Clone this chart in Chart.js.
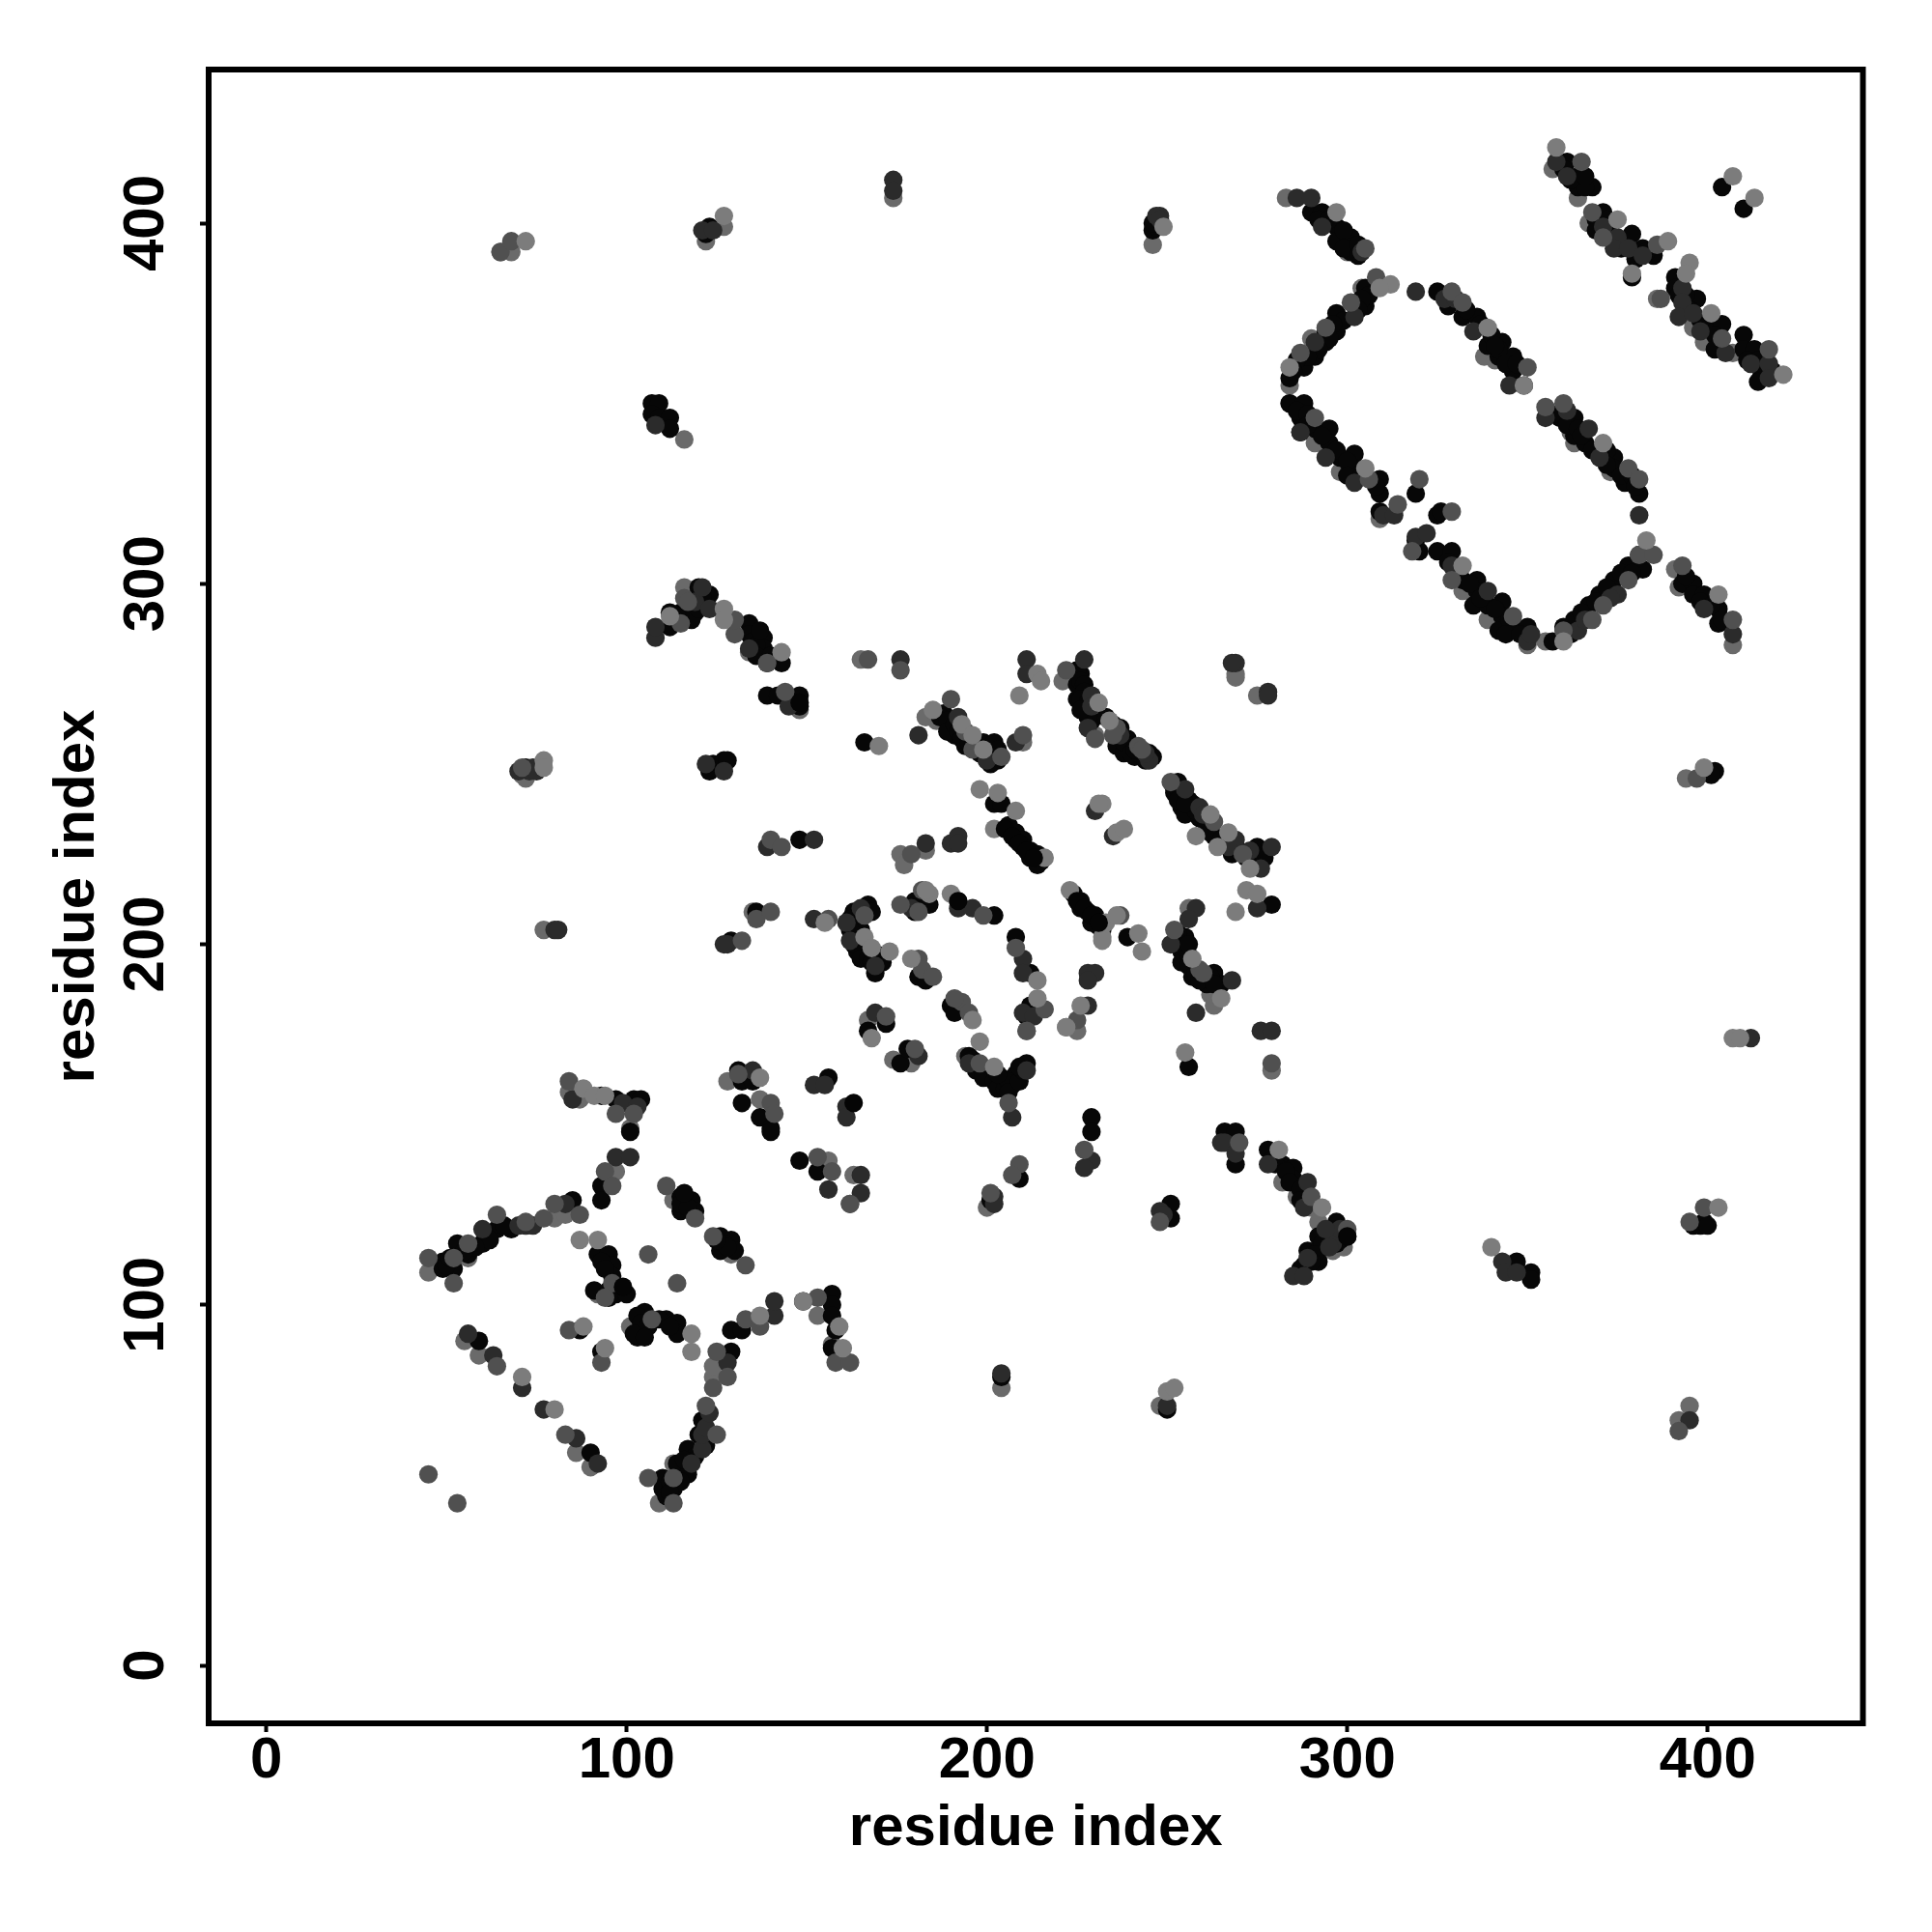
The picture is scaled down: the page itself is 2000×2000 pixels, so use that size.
<!DOCTYPE html>
<html>
<head>
<meta charset="utf-8">
<title>residue contacts</title>
<script src="https://cdn.jsdelivr.net/npm/chart.js@4"></script>
<style>
  body { margin: 0; background: #fff; }
  canvas { display: block; }
</style>
</head>
<body>
<canvas id="contacts" width="2000" height="2000"></canvas>
<script>
// contact pairs [residue, residue], grouped by shade
// painted from the first list to the last one
const grayBack = [
  [357,415],[364,407],[367,400],[386,379],[396,371],[399,367],[403,367],[407,364],[416,358],
  [283,407],[300,392],[304,382],[290,368],[284,355],[284,350],[291,339],[298,331],[309,318],
  [332,298],[339,290],[350,283],[355,284],[338,363],[341,362],[362,342],[363,339],[373,331],
  [392,299],[391,304],[407,283],[269,275],[275,269],[116,299],[134,281],[148,265],[165,279],
  [186,262],[183,263],[221,273],[230,258],[210,256],[176,225],[183,226],[177,222],[135,209],
  [167,179],[211,176],[225,176],[222,177],[174,168],[179,167],[194,169],[269,274],[256,210],
  [279,165],[262,186],[263,183],[84,159],[87,157],[101,149],[128,162],[137,157],[163,136],
  [97,137],[80,124],[83,125],[45,109],[56,113],[92,103],[101,94],[55,90],[59,86],[86,59],
  [90,55],[109,45],[113,56],[124,80],[124,83],[153,97],[157,89],[296,115],[299,116],[292,113],
  [286,130],[282,134],[290,127],[292,123],[394,246],[71,247],[65,392],[68,392],[122,395],
  [127,399],[174,407],[246,394],[116,340],[77,204],[392,68],[248,72],[204,77],[200,127],
  [162,128],[156,140],[113,129],[129,114],[395,72],[72,246]
];
const blackPoints = [
  [361,417],[364,413],[364,410],[368,410],[366,410],[371,403],[369,401],[379,397],[382,393],
  [385,391],[379,385],[391,385],[391,382],[397,379],[400,371],[404,372],[410,369],[410,365],
  [413,365],[404,410],[410,404],[290,403],[293,403],[297,399],[297,395],[301,396],[301,392],
  [305,382],[305,377],[297,375],[294,370],[297,370],[294,367],[291,363],[288,360],[284,357],
  [325,381],[328,377],[332,374],[336,374],[339,366],[343,367],[342,363],[346,363],[346,359],
  [349,355],[284,350],[288,350],[287,342],[287,346],[291,343],[295,343],[295,339],[298,335],
  [302,336],[302,332],[309,329],[309,325],[319,325],[309,320],[325,319],[326,320],[319,312],
  [320,309],[325,309],[329,309],[332,301],[336,301],[336,298],[335,294],[339,294],[343,295],
  [343,291],[342,287],[346,288],[350,288],[357,284],[360,288],[363,290],[367,294],[370,297],
  [374,301],[378,305],[382,304],[381,308],[359,346],[363,346],[363,341],[366,339],[374,335],
  [374,332],[377,328],[381,325],[393,300],[396,300],[396,297],[399,297],[403,293],[403,289],
  [112,288],[112,292],[115,292],[119,292],[120,299],[123,297],[134,289],[134,286],[138,285],
  [138,282],[143,278],[139,278],[139,269],[142,269],[148,269],[148,266],[124,250],[127,251],
  [128,251],[123,248],[226,275],[225,272],[225,268],[229,262],[228,263],[229,269],[188,264],
  [190,260],[191,258],[194,255],[199,256],[202,256],[200,251],[202,253],[166,256],[202,239],
  [204,239],[136,209],[148,229],[129,201],[167,211],[163,209],[164,206],[164,203],[164,198],
  [170,197],[182,212],[181,211],[192,212],[202,208],[212,192],[212,183],[211,180],[208,202],
  [181,191],[183,190],[190,183],[191,181],[172,178],[167,176],[176,167],[178,171],[195,169],
  [197,165],[201,163],[204,163],[207,161],[208,164],[211,167],[237,260],[239,257],[236,255],
  [238,253],[241,252],[245,253],[243,252],[253,245],[252,242],[254,238],[257,239],[255,236],
  [259,235],[263,230],[268,225],[275,227],[274,225],[279,211],[255,202],[254,198],[254,195],
  [257,191],[263,192],[261,189],[265,189],[256,166],[239,202],[229,152],[229,148],[209,135],
  [201,129],[266,148],[269,148],[269,139],[278,143],[282,139],[285,138],[285,135],[288,130],
  [297,123],[300,119],[296,119],[292,119],[289,115],[292,115],[288,111],[292,112],[347,112],
  [351,109],[351,107],[93,158],[97,157],[102,157],[104,157],[101,148],[131,165],[132,162],
  [135,162],[132,156],[137,152],[140,149],[140,148],[156,163],[148,140],[153,137],[93,133],
  [93,129],[85,129],[68,121],[64,121],[60,117],[53,117],[56,114],[49,112],[52,110],[49,110],
  [92,114],[95,114],[96,111],[96,108],[91,104],[97,103],[115,130],[118,129],[115,126],[119,126],
  [126,119],[129,118],[126,115],[130,115],[105,98],[103,97],[103,91],[111,96],[114,95],[114,92],
  [104,93],[87,93],[93,87],[59,90],[90,59],[110,52],[110,49],[113,49],[114,56],[117,53],[117,60],
  [121,68],[129,87],[129,93],[132,93],[157,103],[157,100],[157,97],[158,93],[157,88],[149,101],
  [107,350],[109,350],[107,347],[109,346],[112,346],[112,343],[246,398],[402,248],[401,247],
  [399,123],[250,71],[204,80],[251,128],[251,124],[72,249],
  [360,415],[362,412],[366,413],[369,398],[372,401],[373,398],[376,393],[380,390],[383,392],
  [392,380],[394,380],[395,376],[398,373],[402,369],[402,365],[411,362],[414,362],[415,358],
  [418,359],[414,356],[292,401],[295,401],[299,398],[299,393],[303,394],[303,391],[306,380],
  [304,379],[303,376],[299,373],[296,372],[295,368],[292,365],[289,363],[286,362],[285,359],
  [342,365],[344,361],[347,361],[337,372],[340,369],[341,366],[333,376],[286,348],[289,347],
  [289,344],[293,341],[297,337],[300,334],[300,330],[304,330],[308,327],[328,306],[331,303],
  [334,300],[337,296],[341,293],[345,290],[344,286],[348,286],[362,286],[365,292],[369,295],
  [372,299],[376,303],[379,303],[357,347],[361,344],[364,343],[365,341],[368,337],[372,337],
  [376,330],[379,330],[380,327],[372,333],[394,302],[398,295],[401,294],[404,290],[117,292],
  [118,290],[121,296],[120,293],[114,291],[135,284],[136,283],[137,287],[136,280],[140,280],
  [225,276],[226,273],[227,272],[227,270],[226,268],[228,267],[226,265],[187,263],[189,262],
  [189,259],[191,261],[192,259],[193,257],[195,256],[198,253],[201,252],[203,251],[203,254],
  [201,250],[206,233],[208,231],[208,229],[210,229],[210,227],[212,226],[212,224],[214,225],
  [215,223],[214,222],[224,214],[226,212],[226,210],[228,209],[230,208],[229,206],[231,205],
  [232,204],[162,207],[163,205],[165,204],[162,204],[163,200],[165,200],[165,196],[167,196],
  [168,195],[169,192],[171,195],[166,210],[168,209],[180,212],[183,212],[180,209],[184,211],
  [196,168],[199,165],[199,163],[202,162],[203,160],[205,160],[206,162],[206,159],[209,162],
  [210,165],[209,166],[203,164],[233,263],[235,261],[238,256],[240,255],[240,253],[242,253],
  [244,251],[246,252],[241,254],[252,243],[254,241],[256,240],[258,237],[261,233],[262,231],
  [265,229],[266,228],[270,226],[272,224],[277,224],[253,240],[255,239],[253,201],[255,199],
  [256,197],[256,194],[258,192],[259,190],[262,191],[263,189],[253,203],[252,200],[256,200],
  [279,140],[280,139],[283,137],[284,134],[287,132],[287,129],[294,118],[293,117],[291,114],
  [290,112],[287,110],[297,117],[298,118],[119,58],[116,57],[115,51],[112,51],[111,47],[112,48],
  [120,64],[122,61],[61,119],[62,118],[58,116],[55,115],[50,111],[51,113],[66,122],[93,112],
  [94,110],[95,104],[98,104],[95,102],[100,103],[104,95],[102,92],[106,94],[109,96],[112,94],
  [105,91],[115,128],[117,127],[116,131],[127,117],[128,116],[125,118],[247,399],[246,400],
  [122,397],[123,399],[396,122],[398,122],[400,122]
];
const charcoalPoints = [
  [358,417],[361,413],[371,399],[375,396],[374,393],[378,393],[382,391],[393,382],[393,378],
  [392,374],[396,375],[412,361],[417,361],[417,357],[286,407],[290,407],[293,399],[304,392],
  [302,374],[291,367],[319,381],[335,370],[345,355],[287,342],[294,335],[302,328],[310,319],
  [313,319],[319,313],[322,314],[329,305],[339,298],[350,284],[364,287],[375,297],[355,346],
  [367,343],[370,335],[399,293],[407,286],[269,278],[268,278],[278,270],[108,285],[108,288],
  [119,295],[121,299],[123,293],[134,282],[145,266],[176,279],[211,279],[211,275],[227,279],
  [229,269],[192,263],[200,251],[181,258],[208,256],[122,250],[127,248],[139,227],[183,228],
  [190,228],[192,230],[192,228],[128,200],[127,200],[152,207],[165,210],[161,206],[162,201],
  [169,194],[179,210],[192,210],[196,210],[210,196],[210,192],[210,181],[213,180],[228,192],
  [230,192],[228,190],[228,183],[169,181],[181,169],[207,152],[278,269],[245,251],[255,243],
  [259,238],[269,229],[279,227],[276,221],[275,210],[258,210],[256,207],[251,200],[268,190],
  [258,181],[276,176],[279,176],[229,140],[227,138],[202,130],[265,145],[266,145],[269,142],
  [278,139],[289,134],[296,117],[285,108],[288,108],[343,112],[344,109],[347,109],[135,165],
  [152,161],[155,161],[161,155],[161,152],[156,132],[165,136],[165,131],[97,141],[101,141],
  [83,128],[72,122],[60,121],[56,92],[71,77],[77,71],[63,86],[86,63],[92,56],[118,56],[121,60],
  [121,64],[128,84],[141,97],[141,101],[412,174],[174,412],[174,409],[248,402],[247,402],
  [121,398],[124,398],[108,344],[74,249],[80,204],[81,204],[395,68],[204,81],[248,126],[152,229],
  [398,370],[405,364],[327,379],[330,379],[351,286],[366,290],[373,296],[361,348],[122,66],
  [123,70],[70,122],[74,122],[85,157],[99,156],[103,155],[70,248],[73,248],[75,248],[250,72],
  [249,125],[202,128],[248,401],[195,167],[211,165],[229,266],[228,260],[237,258],[244,253],
  [260,236],[267,227],[273,226],[288,127],[295,116],[289,113],[298,121],[294,121],[381,319],
  [230,237],[235,230]
];
const slatePoints = [
  [365,417],[368,403],[371,396],[386,394],[387,379],[404,368],[417,365],[305,393],[308,385],
  [301,378],[294,371],[287,364],[329,381],[332,378],[350,360],[291,346],[306,329],[320,329],
  [314,322],[329,320],[318,309],[329,301],[346,291],[360,287],[368,290],[371,294],[378,301],
  [381,308],[385,308],[355,349],[360,350],[378,332],[381,329],[393,305],[407,290],[115,289],
  [116,296],[117,295],[130,286],[130,290],[139,278],[144,270],[167,279],[176,276],[222,276],
  [190,268],[194,259],[196,254],[204,252],[210,258],[179,225],[140,229],[143,227],[136,207],
  [140,209],[132,201],[156,207],[166,208],[176,211],[181,209],[182,215],[199,208],[181,196],
  [182,193],[185,191],[193,184],[195,181],[191,185],[208,199],[216,182],[211,176],[225,179],
  [172,180],[180,171],[198,167],[206,156],[236,260],[235,258],[242,255],[243,254],[251,245],
  [263,234],[271,225],[252,204],[259,193],[260,192],[237,208],[230,257],[279,167],[227,143],
  [209,139],[207,136],[201,131],[270,145],[290,130],[300,121],[84,162],[97,153],[102,153],
  [131,164],[140,156],[141,153],[153,141],[157,137],[162,128],[94,137],[96,133],[80,128],
  [87,125],[77,124],[72,123],[64,125],[56,117],[52,113],[45,113],[52,106],[96,106],[94,102],
  [106,114],[114,106],[111,133],[119,124],[124,119],[133,111],[107,96],[84,93],[93,84],[64,83],
  [83,64],[45,53],[53,45],[106,52],[113,52],[113,45],[125,64],[122,72],[124,77],[128,80],[125,87],
  [133,96],[137,94],[153,102],[158,84],[162,84],[65,392],[68,395],[395,123],[399,127],[248,123],
  [392,65],[397,246],[71,249]
];
const grayFront = [
  [358,421],[375,401],[389,395],[379,386],[395,389],[394,386],[401,375],[421,358],[407,413],
  [413,407],[297,403],[312,383],[309,382],[284,360],[339,371],[349,355],[305,332],[332,305],
  [360,284],[383,312],[371,339],[403,297],[143,281],[127,293],[127,290],[112,291],[214,275],
  [215,273],[209,269],[231,267],[185,265],[193,261],[196,258],[199,254],[170,255],[198,243],
  [203,242],[208,237],[202,232],[216,224],[232,239],[231,239],[236,231],[238,232],[184,214],[183,215],
  [190,214],[223,215],[233,206],[232,202],[236,208],[155,206],[166,202],[168,199],[173,198],
  [179,196],[214,190],[214,185],[226,183],[222,177],[196,179],[168,174],[198,173],[202,166],
  [234,262],[262,236],[258,230],[267,231],[264,227],[273,221],[272,215],[275,214],[269,209],
  [257,196],[265,185],[232,201],[242,203],[243,198],[255,170],[281,143],[293,127],[340,116],
  [88,160],[91,158],[94,158],[137,163],[87,118],[92,118],[118,92],[118,87],[88,94],[94,88],
  [71,80],[80,71],[149,101],[159,94],[160,88],[137,97],[72,395],[127,402],[249,399],[77,251],
  [77,249],[399,249],[403,127],[407,174],[409,174],[250,76],[252,77]
];
const blackFront = [
  [163,156],[205,232],[207,230],[209,228],[211,226],[213,224],[225,212],[227,210],[229,208],
  [231,206],[99,105],[192,212],[148,267],[300,119]
];

const tickValues = [0, 100, 200, 300, 400];
const axisLabel = "residue index";

const toPoints = list => list.map(p => ({ x: p[0], y: p[1] }));

const layers = [
  { points: grayBack, color: "#6a6a6a" },
  { points: blackPoints, color: "#070707" },
  { points: charcoalPoints, color: "#2b2b2b" },
  { points: slatePoints, color: "#505050" },
  { points: grayFront, color: "#7c7c7c" },
  { points: blackFront, color: "#050505" },
];

// the frame round the plot
const frame = {
  id: "frame",
  afterDraw(chart) {
    const { ctx, chartArea: a } = chart;
    ctx.save();
    ctx.strokeStyle = "#000";
    ctx.lineWidth = 6;
    ctx.strokeRect(a.left, a.top, a.right - a.left, a.bottom - a.top);
    ctx.restore();
  },
};

const tickFont = { family: "Liberation Sans", size: 60, weight: "bold" };
const titleFont = { family: "Liberation Sans", size: 60, weight: "bold", lineHeight: 1.2 };

new Chart(document.getElementById("contacts"), {
  type: "scatter",
  data: {
    datasets: layers.map((l, i) => ({
      data: toPoints(l.points),
      backgroundColor: l.color,
      borderWidth: 0,
      pointRadius: 9.6,
      order: layers.length - i,
    })),
  },
  options: {
    responsive: false,
    animation: false,
    layout: { padding: { top: 72, right: 71.5, left: 0, bottom: 0 } },
    plugins: { legend: { display: false }, tooltip: { enabled: false } },
    scales: {
      x: {
        type: "linear",
        min: -16,
        max: 443.1,
        afterBuildTicks: scale => { scale.ticks = tickValues.map(v => ({ value: v })); },
        afterFit: scale => { scale.height = 216; },
        border: { display: false },
        grid: { drawOnChartArea: false, tickLength: 9, tickWidth: 4, tickColor: "#000" },
        ticks: { color: "#000", font: tickFont, padding: -6, maxRotation: 0, autoSkip: false },
        title: { display: true, text: axisLabel, color: "#000", font: titleFont, padding: { bottom: 71, top: 0 } },
      },
      y: {
        type: "linear",
        min: -16.05,
        max: 442.6,
        afterBuildTicks: scale => { scale.ticks = tickValues.map(v => ({ value: v })); },
        afterFit: scale => { scale.width = 216; },
        border: { display: false },
        grid: { drawOnChartArea: false, tickLength: 9, tickWidth: 4, tickColor: "#000" },
        ticks: { color: "#000", font: tickFont, padding: 4, minRotation: 90, maxRotation: 90, crossAlign: "center", autoSkip: false },
        title: { display: true, text: axisLabel, color: "#000", font: titleFont, padding: { top: 44, bottom: 0 } },
      },
    },
  },
  plugins: [frame],
});
</script>
</body>
</html>
